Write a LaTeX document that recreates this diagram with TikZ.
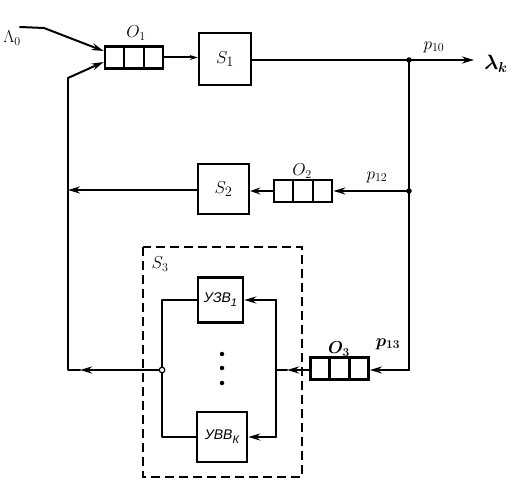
\documentclass[tikz,border=0pt]{standalone}
\usepackage{amsmath}
\usepackage{fontspec}
\newfontfamily\cyrfont{Liberation Sans}
\usetikzlibrary{arrows.meta,calc}
\tikzset{
  conn/.style={line width=2pt,line cap=round,line join=round},
  arr/.style={conn,-{Stealth[length=12pt,width=7pt]}},
  sbox/.style={draw,line width=2.5pt,inner sep=0pt,font=\fontsize{19}{21}\selectfont},
  qbox/.style={draw,line width=2.8pt,minimum width=58pt,minimum height=22pt,inner sep=0pt},
  lbl/.style={inner sep=0pt,font=\fontsize{17}{19}\selectfont},
  cbox/.style={draw,line width=2.5pt,inner sep=0pt,font=\cyrfont\itshape\fontsize{14}{16}\selectfont},
  dotj/.style={circle,fill,inner sep=0pt,minimum size=5.5pt},
  odot/.style={circle,draw,fill=white,line width=1.2pt,inner sep=0pt,minimum size=5.5pt},
}
\newcommand{\qdiv}[1]{\draw[line width=2.6pt] ($(#1.north west)!1/3!(#1.north east)$) -- ($(#1.south west)!1/3!(#1.south east)$);
  \draw[line width=2.6pt] ($(#1.north west)!2/3!(#1.north east)$) -- ($(#1.south west)!2/3!(#1.south east)$);}
\newcommand{\cyrsub}[1]{\raisebox{-4pt}{\fontsize{11}{12}\selectfont #1}}
\begin{document}
\begin{tikzpicture}[x=1pt,y=-1pt]
\useasboundingbox (0,0) rectangle (529,486);
% nodes
\node[qbox] (q1) at (134,57.5) {};
\qdiv{q1}
\node[sbox,minimum width=52pt,minimum height=52pt] (s1) at (225,59) {$S_1$};
\node[qbox] (q2) at (303,191) {};
\qdiv{q2}
\node[sbox,minimum width=51pt,minimum height=50pt] (s2) at (223.5,189) {$S_2$};
\node[qbox] (q3) at (339.5,368.5) {};
\qdiv{q3}
\draw[line width=1.9pt,dash pattern=on 9pt off 5pt] (143,247) rectangle (302,477);
\node[cbox,minimum width=45pt,minimum height=45pt] (u1) at (220.5,300) {УЗВ\cyrsub{1}};
\node[cbox,minimum width=50pt,minimum height=50pt] (u2) at (222,437) {УВВ\cyrsub{К}};
% coordinates
\coordinate (lam) at (20,27);
\coordinate (lamb) at (44,28);
\coordinate (j1) at (409,60);
\coordinate (out) at (474,60);
\coordinate (j2) at (409,191);
\coordinate (c3) at (409,370);
\coordinate (fbl) at (68,370);
\coordinate (fbt) at (68,78);
\coordinate (fb2) at (68,190);
\coordinate (il) at (162,370);
\coordinate (ilt) at (162,300);
\coordinate (ilb) at (162,437);
\coordinate (ir) at (276,370);
\coordinate (irt) at (276,300);
\coordinate (irb) at (276,437);
\coordinate (am) at (80,370);
\coordinate (a3) at (287,370);
% connectors
\draw[conn] (lam) -- (lamb);
\draw[arr] (lamb) -- (q1.west |- 0,51);
\draw[conn] (am) -- (fbl) -- (fbt);
\draw[arr] (fbt) -- (q1.west |- 0,62);
\draw[arr,-{Stealth[length=8pt,width=5pt]}] (q1.east) -- (s1.west |- q1.east);
\draw[conn] (s1.east |- j1) -- (j1);
\draw[arr] (j1) -- (out);
\draw[conn] (j1) -- (c3);
\draw[arr] (c3) -- (q3.east |- c3);
\draw[arr] (j2) -- (q2.east);
\draw[arr,-{Stealth[length=10pt,width=7pt,open]}] (q2.west) -- (s2.east |- q2.west);
\draw[arr] (s2.west |- fb2) -- (fb2);
\draw[arr] (q3.west |- c3) -- (a3);
\draw[conn] (a3) -- (ir);
\draw[conn] (irt) -- (irb);
\draw[arr] (irt) -- (u1.east);
\draw[arr] (irb) -- (u2.east);
\draw[conn] (u1.west) -- (ilt) -- (ilb) -- (u2.west);
\draw[arr] (il) -- (am);
\node[dotj] (d1) at (j1) {};
\node[dotj] (d2) at (j2) {};
\node[odot] (d3) at (il) {};
% dots
\node[dotj,minimum size=4.5pt] (v1) at (222,354) {};
\node[dotj,minimum size=4.5pt] (v2) at (222,368) {};
\node[dotj,minimum size=4.5pt] (v3) at (222,383) {};
% labels
\node[lbl] (tL) at (12,38) {$\Lambda_0$};
\node[lbl] (tO1) at (136,33) {$O_1$};
\node[lbl] (tp10) at (434,47) {$p_{10}$};
\node[lbl,font=\fontsize{20}{22}\selectfont] (tlk) at (496,64) {$\boldsymbol{\lambda_k}$};
\node[lbl] (tO2) at (302,171) {$O_2$};
\node[lbl] (tp12) at (377,177) {$p_{12}$};
\node[lbl] (tS3) at (160,264) {$S_3$};
\node[lbl] (tO3) at (339,349) {$\boldsymbol{O_3}$};
\node[lbl] (tp13) at (388,344) {$\boldsymbol{p_{13}}$};
\end{tikzpicture}
\end{document}
